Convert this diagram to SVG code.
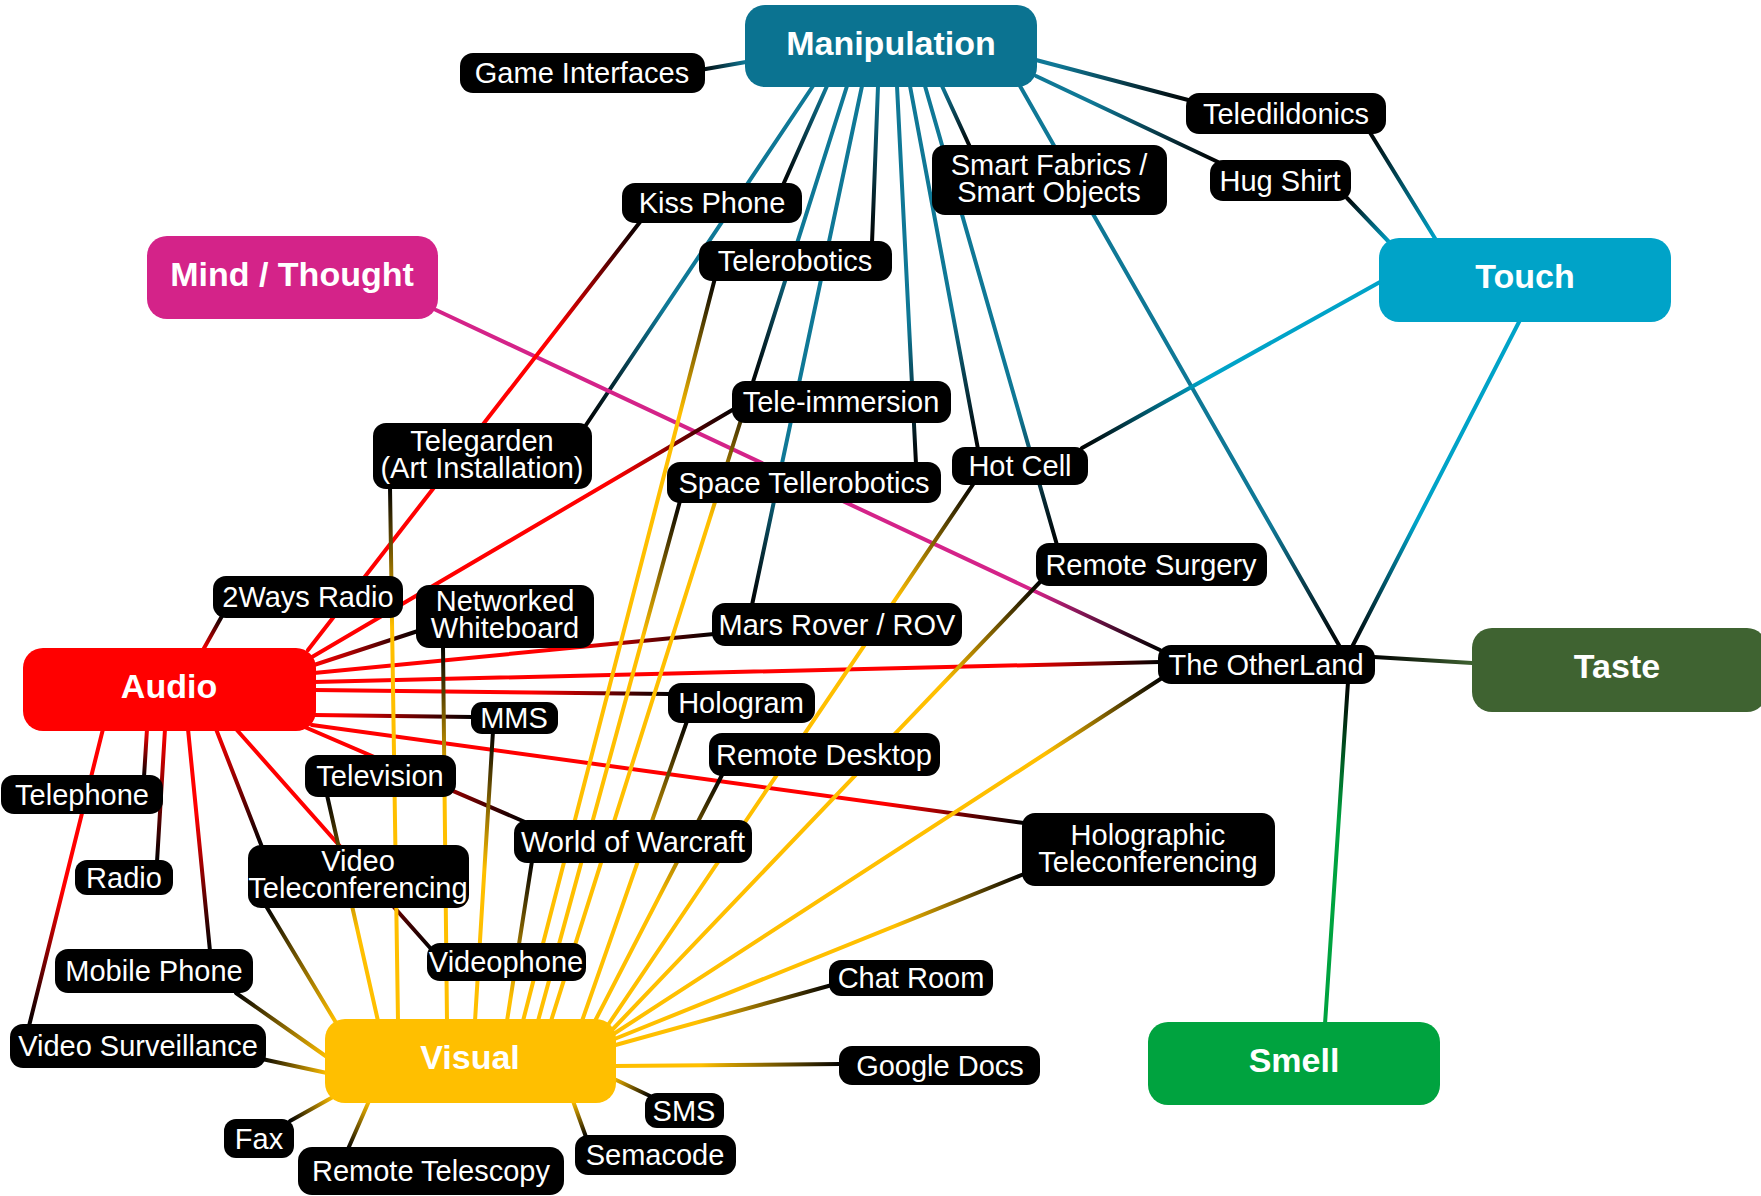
<svg xmlns="http://www.w3.org/2000/svg" width="1761" height="1196" viewBox="0 0 1761 1196">
<style>
  .c line { fill: none; stroke-width: 4; stroke-linecap: round; }
  .lb rect { fill: #000; }
  .lb text { font-family: "Liberation Sans", Arial, sans-serif; font-size: 29px; fill: #fff; text-anchor: middle; }
  .mn text { font-family: "Liberation Sans", Arial, sans-serif; font-size: 34px; font-weight: bold; fill: #fff; text-anchor: middle; }
</style>
<defs>
  <!-- base fades: category colour at the hub end, black at the label end -->
  <linearGradient id="gM" gradientUnits="userSpaceOnUse"><stop offset="0" stop-color="#0f7896"/><stop offset="1" stop-color="#000"/></linearGradient>
  <linearGradient id="gT" gradientUnits="userSpaceOnUse"><stop offset="0" stop-color="#00a3c8"/><stop offset="1" stop-color="#000"/></linearGradient>
  <linearGradient id="gA" gradientUnits="userSpaceOnUse"><stop offset="0" stop-color="#ff0000"/><stop offset="1" stop-color="#000"/></linearGradient>
  <linearGradient id="gV" gradientUnits="userSpaceOnUse"><stop offset="0" stop-color="#ffbf00"/><stop offset="1" stop-color="#000"/></linearGradient>
  <linearGradient id="gMT" gradientUnits="userSpaceOnUse"><stop offset="0" stop-color="#d42389"/><stop offset="1" stop-color="#000"/></linearGradient>
  <linearGradient id="gTA" gradientUnits="userSpaceOnUse"><stop offset="0" stop-color="#3f6331"/><stop offset="1" stop-color="#000"/></linearGradient>
  <linearGradient id="gS" gradientUnits="userSpaceOnUse"><stop offset="0" stop-color="#00a33f"/><stop offset="1" stop-color="#000"/></linearGradient>

  <!-- per-connector fade spans (start point of the fade, label end) -->
  <linearGradient id="m1" href="#gM" x1="746" y1="62" x2="700" y2="70"/>
  <linearGradient id="m2" href="#gM" x1="1056" y1="65" x2="1192" y2="101"/>
  <linearGradient id="m3" href="#gM" x1="1091" y1="102" x2="1218" y2="162"/>
  <linearGradient id="m4" href="#gM" x1="942" y1="86" x2="970" y2="147"/>
  <linearGradient id="m5" href="#gM" x1="1271" y1="525" x2="1340" y2="647"/>
  <linearGradient id="m6" href="#gM" x1="664" y1="309" x2="586" y2="425"/>
  <linearGradient id="m7" href="#gM" x1="827" y1="86" x2="783" y2="185"/>
  <linearGradient id="m8" href="#gM" x1="794" y1="252" x2="752" y2="385"/>
  <linearGradient id="m9" href="#gM" x1="781" y1="468" x2="752" y2="605"/>
  <linearGradient id="m10" href="#gM" x1="878" y1="86" x2="872" y2="243"/>
  <linearGradient id="m11" href="#gM" x1="909" y1="324" x2="916" y2="464"/>
  <linearGradient id="m12" href="#gM" x1="952" y1="311" x2="978" y2="449"/>
  <linearGradient id="m13" href="#gM" x1="1018" y1="411" x2="1057" y2="545"/>

  <linearGradient id="t1" href="#gT" x1="1436" y1="240" x2="1369" y2="131"/>
  <linearGradient id="t2" href="#gT" x1="1390" y1="243" x2="1347" y2="198"/>
  <linearGradient id="t3" href="#gT" x1="1204" y1="380" x2="1082" y2="448"/>
  <linearGradient id="t4" href="#gT" x1="1416" y1="523" x2="1352" y2="647"/>

  <linearGradient id="mt1" href="#gMT" x1="1033" y1="591" x2="1160" y2="650"/>

  <linearGradient id="a1" href="#gA" x1="203" y1="650" x2="222" y2="616"/>
  <linearGradient id="a2" href="#gA" x1="554" y1="333" x2="640" y2="222"/>
  <linearGradient id="a3" href="#gA" x1="613" y1="480" x2="734" y2="409"/>
  <linearGradient id="a4" href="#gA" x1="314" y1="665" x2="418" y2="631"/>
  <linearGradient id="a5" href="#gA" x1="575" y1="648" x2="714" y2="634"/>
  <linearGradient id="a6" href="#gA" x1="1020" y1="665" x2="1160" y2="662"/>
  <linearGradient id="a7" href="#gA" x1="530" y1="693" x2="670" y2="694"/>
  <linearGradient id="a8" href="#gA" x1="333" y1="715" x2="473" y2="717"/>
  <linearGradient id="a9" href="#gA" x1="885" y1="804" x2="1024" y2="823"/>
  <linearGradient id="a10" href="#gA" x1="396" y1="767" x2="525" y2="822"/>
  <linearGradient id="a11" href="#gA" x1="339" y1="845" x2="432" y2="950"/>
  <linearGradient id="a12" href="#gA" x1="216" y1="729" x2="262" y2="847"/>
  <linearGradient id="a13" href="#gA" x1="196" y1="812" x2="210" y2="951"/>
  <linearGradient id="a14" href="#gA" x1="165" y1="729" x2="157" y2="862"/>
  <linearGradient id="a15" href="#gA" x1="147" y1="729" x2="144" y2="777"/>
  <linearGradient id="a16" href="#gA" x1="63" y1="890" x2="29" y2="1026"/>

  <linearGradient id="v1" href="#gV" x1="391" y1="627" x2="390" y2="487"/>
  <linearGradient id="v2" href="#gV" x1="358" y1="931" x2="327" y2="795"/>
  <linearGradient id="v3" href="#gV" x1="444" y1="786" x2="443" y2="646"/>
  <linearGradient id="v4" href="#gV" x1="484" y1="871" x2="493" y2="731"/>
  <linearGradient id="v5" href="#gV" x1="680" y1="414" x2="715" y2="278"/>
  <linearGradient id="v6" href="#gV" x1="710" y1="519" x2="752" y2="385"/>
  <linearGradient id="v7" href="#gV" x1="643" y1="636" x2="680" y2="501"/>
  <linearGradient id="v8" href="#gV" x1="641" y1="853" x2="687" y2="721"/>
  <linearGradient id="v9" href="#gV" x1="510" y1="999" x2="532" y2="861"/>
  <linearGradient id="v10" href="#gV" x1="658" y1="899" x2="722" y2="775"/>
  <linearGradient id="v11" href="#gV" x1="896" y1="599" x2="974" y2="483"/>
  <linearGradient id="v12" href="#gV" x1="943" y1="683" x2="1040" y2="582"/>
  <linearGradient id="v13" href="#gV" x1="1045" y1="754" x2="1162" y2="678"/>
  <linearGradient id="v14" href="#gV" x1="894" y1="926" x2="1024" y2="874"/>
  <linearGradient id="v15" href="#gV" x1="697" y1="1022" x2="832" y2="985"/>
  <linearGradient id="v16" href="#gV" x1="701" y1="1065" x2="841" y2="1064"/>
  <linearGradient id="v17" href="#gV" x1="612" y1="1078" x2="650" y2="1096"/>
  <linearGradient id="v18" href="#gV" x1="573" y1="1101" x2="586" y2="1137"/>
  <linearGradient id="v19" href="#gV" x1="369" y1="1101" x2="348" y2="1149"/>
  <linearGradient id="v20" href="#gV" x1="333" y1="1097" x2="290" y2="1121"/>
  <linearGradient id="v21" href="#gV" x1="327" y1="1073" x2="262" y2="1059"/>
  <linearGradient id="v22" href="#gV" x1="327" y1="1057" x2="236" y2="993"/>
  <linearGradient id="v23" href="#gV" x1="335" y1="1021" x2="266" y2="906"/>

  <linearGradient id="ta1" href="#gTA" x1="1472" y1="663" x2="1374" y2="657"/>
  <linearGradient id="sm1" href="#gS" x1="1339" y1="821" x2="1348" y2="682"/>
</defs>

<rect width="1761" height="1196" fill="#fff"/>

<g id="connectors" class="c">
  <!-- Manipulation -->
  <line x1="746" y1="62" x2="700" y2="70" stroke="url(#m1)"/>
  <line x1="1036" y1="60" x2="1192" y2="101" stroke="url(#m2)"/>
  <line x1="1036" y1="76" x2="1218" y2="162" stroke="url(#m3)"/>
  <line x1="942" y1="86" x2="970" y2="147" stroke="url(#m4)"/>
  <line x1="1020" y1="86" x2="1340" y2="647" stroke="url(#m5)"/>
  <line x1="813" y1="86" x2="586" y2="425" stroke="url(#m6)"/>
  <line x1="827" y1="86" x2="783" y2="185" stroke="url(#m7)"/>
  <line x1="847" y1="86" x2="752" y2="385" stroke="url(#m8)"/>
  <line x1="862" y1="86" x2="752" y2="605" stroke="url(#m9)"/>
  <line x1="878" y1="86" x2="872" y2="243" stroke="url(#m10)"/>
  <line x1="897" y1="86" x2="916" y2="464" stroke="url(#m11)"/>
  <line x1="910" y1="86" x2="978" y2="449" stroke="url(#m12)"/>
  <line x1="925" y1="86" x2="1057" y2="545" stroke="url(#m13)"/>
  <!-- Touch -->
  <line x1="1436" y1="240" x2="1369" y2="131" stroke="url(#t1)"/>
  <line x1="1390" y1="243" x2="1347" y2="198" stroke="url(#t2)"/>
  <line x1="1380" y1="282" x2="1082" y2="448" stroke="url(#t3)"/>
  <line x1="1520" y1="320" x2="1352" y2="647" stroke="url(#t4)"/>
  <!-- Mind / Thought -->
  <line x1="436" y1="310" x2="1160" y2="650" stroke="url(#mt1)"/>
  <!-- Audio -->
  <line x1="203" y1="650" x2="222" y2="616" stroke="url(#a1)"/>
  <line x1="308" y1="650" x2="640" y2="222" stroke="url(#a2)"/>
  <line x1="312" y1="657" x2="734" y2="409" stroke="url(#a3)"/>
  <line x1="314" y1="665" x2="418" y2="631" stroke="url(#a4)"/>
  <line x1="314" y1="673" x2="714" y2="634" stroke="url(#a5)"/>
  <line x1="314" y1="682" x2="1160" y2="662" stroke="url(#a6)"/>
  <line x1="314" y1="690" x2="670" y2="694" stroke="url(#a7)"/>
  <line x1="314" y1="715" x2="473" y2="717" stroke="url(#a8)"/>
  <line x1="312" y1="725" x2="1024" y2="823" stroke="url(#a9)"/>
  <line x1="300" y1="725" x2="525" y2="822" stroke="url(#a10)"/>
  <line x1="236" y1="729" x2="432" y2="950" stroke="url(#a11)"/>
  <line x1="216" y1="729" x2="262" y2="847" stroke="url(#a12)"/>
  <line x1="188" y1="729" x2="210" y2="951" stroke="url(#a13)"/>
  <line x1="165" y1="729" x2="157" y2="862" stroke="url(#a14)"/>
  <line x1="147" y1="729" x2="144" y2="777" stroke="url(#a15)"/>
  <line x1="103" y1="729" x2="29" y2="1026" stroke="url(#a16)"/>
  <!-- Visual -->
  <line x1="398" y1="1021" x2="390" y2="487" stroke="url(#v1)"/>
  <line x1="378" y1="1021" x2="327" y2="795" stroke="url(#v2)"/>
  <line x1="447" y1="1021" x2="443" y2="646" stroke="url(#v3)"/>
  <line x1="475" y1="1021" x2="493" y2="731" stroke="url(#v4)"/>
  <line x1="523" y1="1021" x2="715" y2="278" stroke="url(#v5)"/>
  <line x1="551" y1="1021" x2="752" y2="385" stroke="url(#v6)"/>
  <line x1="538" y1="1021" x2="680" y2="501" stroke="url(#v7)"/>
  <line x1="582" y1="1021" x2="687" y2="721" stroke="url(#v8)"/>
  <line x1="507" y1="1021" x2="532" y2="861" stroke="url(#v9)"/>
  <line x1="595" y1="1021" x2="722" y2="775" stroke="url(#v10)"/>
  <line x1="608" y1="1025" x2="974" y2="483" stroke="url(#v11)"/>
  <line x1="612" y1="1030" x2="1040" y2="582" stroke="url(#v12)"/>
  <line x1="612" y1="1035" x2="1162" y2="678" stroke="url(#v13)"/>
  <line x1="612" y1="1040" x2="1024" y2="874" stroke="url(#v14)"/>
  <line x1="612" y1="1046" x2="832" y2="985" stroke="url(#v15)"/>
  <line x1="614" y1="1066" x2="841" y2="1064" stroke="url(#v16)"/>
  <line x1="612" y1="1078" x2="650" y2="1096" stroke="url(#v17)"/>
  <line x1="573" y1="1101" x2="586" y2="1137" stroke="url(#v18)"/>
  <line x1="369" y1="1101" x2="348" y2="1149" stroke="url(#v19)"/>
  <line x1="333" y1="1097" x2="290" y2="1121" stroke="url(#v20)"/>
  <line x1="327" y1="1073" x2="262" y2="1059" stroke="url(#v21)"/>
  <line x1="327" y1="1057" x2="236" y2="993" stroke="url(#v22)"/>
  <line x1="335" y1="1021" x2="266" y2="906" stroke="url(#v23)"/>
  <!-- Taste and Smell -->
  <line x1="1472" y1="663" x2="1374" y2="657" stroke="url(#ta1)"/>
  <line x1="1325" y1="1024" x2="1348" y2="682" stroke="url(#sm1)"/>
</g>

<!-- hub nodes -->
<g id="manipulation" class="mn"><rect x="745" y="5" width="292" height="82" rx="20" fill="#0b7391"/><text x="891" y="55">Manipulation</text></g>
<g id="touch" class="mn"><rect x="1379" y="238" width="292" height="84" rx="20" fill="#00a3c8"/><text x="1525" y="288">Touch</text></g>
<g id="mind" class="mn"><rect x="147" y="236" width="291" height="83" rx="20" fill="#d42389"/><text x="292" y="286">Mind / Thought</text></g>
<g id="audio" class="mn"><rect x="23" y="648" width="293" height="83" rx="20" fill="#ff0000"/><text x="169" y="698">Audio</text></g>
<g id="taste" class="mn"><rect x="1472" y="628" width="295" height="84" rx="20" fill="#3f6331"/><text x="1617" y="678">Taste</text></g>
<g id="visual" class="mn"><rect x="325" y="1019" width="291" height="84" rx="20" fill="#ffbf00"/><text x="470" y="1069">Visual</text></g>
<g id="smell" class="mn"><rect x="1148" y="1022" width="292" height="83" rx="20" fill="#00a33f"/><text x="1294" y="1072">Smell</text></g>

<!-- example labels -->
<g id="game-interfaces" class="lb"><rect x="460" y="53" width="245" height="40" rx="13"/><text x="582" y="83">Game Interfaces</text></g>
<g id="kiss-phone" class="lb"><rect x="622" y="183" width="180" height="40" rx="13"/><text x="712" y="213">Kiss Phone</text></g>
<g id="telerobotics" class="lb"><rect x="699" y="241" width="193" height="40" rx="13"/><text x="795" y="271">Telerobotics</text></g>
<g id="smart-fabrics" class="lb"><rect x="932" y="145" width="235" height="70" rx="13"/><text x="1049" y="175">Smart Fabrics /<tspan x="1049" dy="27">Smart Objects</tspan></text></g>
<g id="teledildonics" class="lb"><rect x="1186" y="93" width="200" height="41" rx="13"/><text x="1286" y="124">Teledildonics</text></g>
<g id="hug-shirt" class="lb"><rect x="1210" y="160" width="141" height="41" rx="13"/><text x="1280" y="191">Hug Shirt</text></g>
<g id="telegarden" class="lb"><rect x="373" y="423" width="219" height="66" rx="13"/><text x="482" y="451">Telegarden<tspan x="482" dy="27">(Art Installation)</tspan></text></g>
<g id="tele-immersion" class="lb"><rect x="732" y="381" width="219" height="42" rx="13"/><text x="841" y="412">Tele-immersion</text></g>
<g id="space-tellerobotics" class="lb"><rect x="667" y="462" width="274" height="41" rx="13"/><text x="804" y="493">Space Tellerobotics</text></g>
<g id="hot-cell" class="lb"><rect x="952" y="447" width="136" height="38" rx="13"/><text x="1020" y="476">Hot Cell</text></g>
<g id="remote-surgery" class="lb"><rect x="1036" y="543" width="231" height="43" rx="13"/><text x="1151" y="575">Remote Surgery</text></g>
<g id="two-ways-radio" class="lb"><rect x="213" y="576" width="190" height="42" rx="13"/><text x="308" y="607">2Ways Radio</text></g>
<g id="networked-whiteboard" class="lb"><rect x="416" y="585" width="178" height="63" rx="13"/><text x="505" y="611">Networked<tspan x="505" dy="27">Whiteboard</tspan></text></g>
<g id="mars-rover" class="lb"><rect x="712" y="603" width="250" height="43" rx="13"/><text x="837" y="635">Mars Rover / ROV</text></g>
<g id="the-otherland" class="lb"><rect x="1158" y="645" width="217" height="39" rx="13"/><text x="1266" y="675">The OtherLand</text></g>
<g id="mms" class="lb"><rect x="471" y="702" width="87" height="32" rx="11"/><text x="514" y="728">MMS</text></g>
<g id="hologram" class="lb"><rect x="668" y="683" width="147" height="40" rx="13"/><text x="741" y="713">Hologram</text></g>
<g id="remote-desktop" class="lb"><rect x="709" y="733" width="231" height="43" rx="13"/><text x="824" y="765">Remote Desktop</text></g>
<g id="television" class="lb"><rect x="305" y="755" width="151" height="42" rx="13"/><text x="380" y="786">Television</text></g>
<g id="telephone" class="lb"><rect x="1" y="775" width="162" height="39" rx="13"/><text x="82" y="805">Telephone</text></g>
<g id="world-of-warcraft" class="lb"><rect x="514" y="820" width="238" height="43" rx="13"/><text x="633" y="852">World of Warcraft</text></g>
<g id="holographic-teleconferencing" class="lb"><rect x="1022" y="813" width="253" height="73" rx="13"/><text x="1148" y="845">Holographic<tspan x="1148" dy="27">Teleconferencing</tspan></text></g>
<g id="video-teleconferencing" class="lb"><rect x="248" y="845" width="221" height="63" rx="13"/><text x="358" y="871">Video<tspan x="358" dy="27">Teleconferencing</tspan></text></g>
<g id="radio" class="lb"><rect x="75" y="860" width="98" height="35" rx="12"/><text x="124" y="888">Radio</text></g>
<g id="videophone" class="lb"><rect x="427" y="943" width="159" height="38" rx="13"/><text x="506" y="972">Videophone</text></g>
<g id="mobile-phone" class="lb"><rect x="55" y="949" width="198" height="44" rx="13"/><text x="154" y="981">Mobile Phone</text></g>
<g id="chat-room" class="lb"><rect x="829" y="960" width="164" height="36" rx="12"/><text x="911" y="988">Chat Room</text></g>
<g id="video-surveillance" class="lb"><rect x="10" y="1024" width="256" height="44" rx="13"/><text x="138" y="1056">Video Surveillance</text></g>
<g id="google-docs" class="lb"><rect x="839" y="1046" width="201" height="39" rx="13"/><text x="940" y="1076">Google Docs</text></g>
<g id="sms" class="lb"><rect x="645" y="1093" width="79" height="35" rx="12"/><text x="684" y="1121">SMS</text></g>
<g id="fax" class="lb"><rect x="224" y="1119" width="70" height="39" rx="12"/><text x="259" y="1149">Fax</text></g>
<g id="semacode" class="lb"><rect x="575" y="1135" width="161" height="40" rx="13"/><text x="655" y="1165">Semacode</text></g>
<g id="remote-telescopy" class="lb"><rect x="298" y="1147" width="266" height="48" rx="14"/><text x="431" y="1181">Remote Telescopy</text></g>
</svg>
